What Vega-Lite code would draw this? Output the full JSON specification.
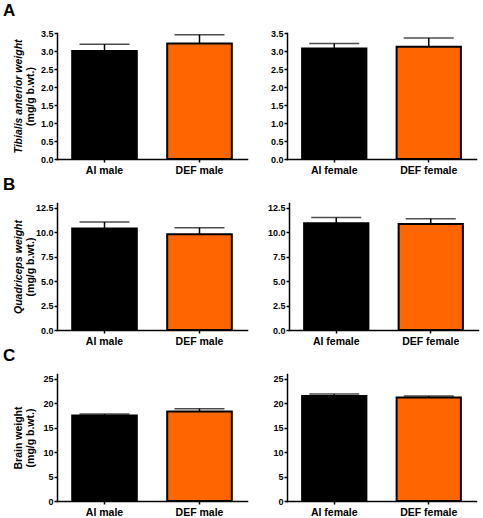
{
  "$schema": "https://vega.github.io/schema/vega-lite/v6.json",
  "padding": {"left": 3, "top": 2, "right": 5, "bottom": 5},
  "background": "white",
  "datasets": {
    "A_m": [
      {"group": "AI male", "diet": "AI", "mean": 3.0, "upper": 3.19},
      {"group": "DEF male", "diet": "DEF", "mean": 3.21, "upper": 3.45}
    ],
    "A_f": [
      {"group": "AI female", "diet": "AI", "mean": 3.07, "upper": 3.21},
      {"group": "DEF female", "diet": "DEF", "mean": 3.12, "upper": 3.36}
    ],
    "B_m": [
      {"group": "AI male", "diet": "AI", "mean": 10.4, "upper": 11.05},
      {"group": "DEF male", "diet": "DEF", "mean": 9.81, "upper": 10.46}
    ],
    "B_f": [
      {"group": "AI female", "diet": "AI", "mean": 10.93, "upper": 11.52},
      {"group": "DEF female", "diet": "DEF", "mean": 10.86, "upper": 11.39}
    ],
    "C_m": [
      {"group": "AI male", "diet": "AI", "mean": 17.5, "upper": 17.8},
      {"group": "DEF male", "diet": "DEF", "mean": 18.3, "upper": 18.9}
    ],
    "C_f": [
      {"group": "AI female", "diet": "AI", "mean": 21.5, "upper": 21.9},
      {"group": "DEF female", "diet": "DEF", "mean": 21.2, "upper": 21.5}
    ]
  },
  "config": {
    "view": {"stroke": null},
    "font": "Liberation Sans",
    "axis": {
      "domainColor": "black", "domainWidth": 1.5, "domainCap": "square",
      "tickColor": "black", "tickWidth": 1.5, "tickSize": 3,
      "labelFont": "Liberation Sans", "labelFontWeight": "bold", "labelColor": "black",
      "titleFont": "Liberation Sans", "titleFontWeight": "bold", "titleColor": "black",
      "grid": false, "labelOverlap": false
    },
    "axisY": {"labelFontSize": 9, "labelPadding": 1, "minExtent": 20, "maxExtent": 20, "titleFontSize": 10.5, "titlePadding": 2, "titleLineHeight": 12},
    "axisX": {"labelFontSize": 10.5, "labelPadding": 3, "labelAngle": 0},
    "title": {"fontSize": 17, "fontWeight": "bold", "font": "Liberation Sans", "color": "black", "anchor": "start", "frame": "bounds", "dx": -10, "offset": 9},
    "concat": {"spacing": 20}
  },
  "vconcat": [
    {
      "title": "A",
      "hconcat": [
        {
          "width": 190, "height": 126, "data": {"name": "A_m"},
          "encoding": {"x": {"field": "group", "type": "nominal", "sort": null, "scale": {"paddingInner": 0.32, "paddingOuter": 0.16}, "axis": {"title": null}}},
          "resolve": {"axis": {"y": "independent"}},
          "layer": [
            {"mark": {"type": "bar", "stroke": "black", "strokeWidth": 2}, "encoding": {"y": {"field": "mean", "type": "quantitative", "scale": {"domain": [0, 3.5]}, "axis": {"values": [0, 0.5, 1, 1.5, 2, 2.5, 3, 3.5], "format": ".1f", "title": "(mg/g b.wt.)"}}, "color": {"field": "diet", "type": "nominal", "scale": {"domain": ["AI", "DEF"], "range": ["black", "#FF6600"]}, "legend": null}}},
            {"mark": {"type": "rule", "color": "black", "strokeWidth": 1.5}, "encoding": {"y": {"field": "mean", "type": "quantitative", "axis": {"orient": "left", "labels": false, "ticks": false, "domain": false, "title": "Tibialis anterior weight", "titleFontStyle": "italic", "titlePadding": 14}}, "y2": {"field": "upper"}}},
            {"mark": {"type": "tick", "orient": "horizontal", "size": 50, "thickness": 1.5, "color": "black"}, "encoding": {"y": {"field": "upper", "type": "quantitative", "axis": null}}}
          ]
        },
        {
          "width": 189, "height": 126, "data": {"name": "A_f"},
          "encoding": {"x": {"field": "group", "type": "nominal", "sort": null, "scale": {"paddingInner": 0.32, "paddingOuter": 0.16}, "axis": {"title": null}}},
          "resolve": {"axis": {"y": "independent"}},
          "layer": [
            {"mark": {"type": "bar", "stroke": "black", "strokeWidth": 2}, "encoding": {"y": {"field": "mean", "type": "quantitative", "scale": {"domain": [0, 3.5]}, "axis": {"values": [0, 0.5, 1, 1.5, 2, 2.5, 3, 3.5], "format": ".1f", "title": null}}, "color": {"field": "diet", "type": "nominal", "scale": {"domain": ["AI", "DEF"], "range": ["black", "#FF6600"]}, "legend": null}}},
            {"mark": {"type": "rule", "color": "black", "strokeWidth": 1.5}, "encoding": {"y": {"field": "mean", "type": "quantitative", "axis": null}, "y2": {"field": "upper"}}},
            {"mark": {"type": "tick", "orient": "horizontal", "size": 50, "thickness": 1.5, "color": "black"}, "encoding": {"y": {"field": "upper", "type": "quantitative", "axis": null}}}
          ]
        }
      ]
    },
    {
      "title": "B",
      "hconcat": [
        {
          "width": 190, "height": 127, "data": {"name": "B_m"},
          "encoding": {"x": {"field": "group", "type": "nominal", "sort": null, "scale": {"paddingInner": 0.32, "paddingOuter": 0.16}, "axis": {"title": null}}},
          "resolve": {"axis": {"y": "independent"}},
          "layer": [
            {"mark": {"type": "bar", "stroke": "black", "strokeWidth": 2}, "encoding": {"y": {"field": "mean", "type": "quantitative", "scale": {"domain": [0, 12.5]}, "axis": {"values": [0, 2.5, 5, 7.5, 10, 12.5], "format": ".1f", "title": "(mg/g b.wt.)"}}, "color": {"field": "diet", "type": "nominal", "scale": {"domain": ["AI", "DEF"], "range": ["black", "#FF6600"]}, "legend": null}}},
            {"mark": {"type": "rule", "color": "black", "strokeWidth": 1.5}, "encoding": {"y": {"field": "mean", "type": "quantitative", "axis": {"orient": "left", "labels": false, "ticks": false, "domain": false, "title": "Quadriceps weight", "titleFontStyle": "italic", "titlePadding": 14}}, "y2": {"field": "upper"}}},
            {"mark": {"type": "tick", "orient": "horizontal", "size": 50, "thickness": 1.5, "color": "black"}, "encoding": {"y": {"field": "upper", "type": "quantitative", "axis": null}}}
          ]
        },
        {
          "width": 189, "height": 127, "data": {"name": "B_f"},
          "encoding": {"x": {"field": "group", "type": "nominal", "sort": null, "scale": {"paddingInner": 0.32, "paddingOuter": 0.16}, "axis": {"title": null}}},
          "resolve": {"axis": {"y": "independent"}},
          "layer": [
            {"mark": {"type": "bar", "stroke": "black", "strokeWidth": 2}, "encoding": {"y": {"field": "mean", "type": "quantitative", "scale": {"domain": [0, 12.5]}, "axis": {"values": [0, 2.5, 5, 7.5, 10, 12.5], "format": ".1f", "title": null}}, "color": {"field": "diet", "type": "nominal", "scale": {"domain": ["AI", "DEF"], "range": ["black", "#FF6600"]}, "legend": null}}},
            {"mark": {"type": "rule", "color": "black", "strokeWidth": 1.5}, "encoding": {"y": {"field": "mean", "type": "quantitative", "axis": null}, "y2": {"field": "upper"}}},
            {"mark": {"type": "tick", "orient": "horizontal", "size": 50, "thickness": 1.5, "color": "black"}, "encoding": {"y": {"field": "upper", "type": "quantitative", "axis": null}}}
          ]
        }
      ]
    },
    {
      "title": "C",
      "hconcat": [
        {
          "width": 190, "height": 127, "data": {"name": "C_m"},
          "encoding": {"x": {"field": "group", "type": "nominal", "sort": null, "scale": {"paddingInner": 0.32, "paddingOuter": 0.16}, "axis": {"title": null}}},
          "resolve": {"axis": {"y": "independent"}},
          "layer": [
            {"mark": {"type": "bar", "stroke": "black", "strokeWidth": 2}, "encoding": {"y": {"field": "mean", "type": "quantitative", "scale": {"domain": [0, 25]}, "axis": {"values": [0, 5, 10, 15, 20, 25], "format": "d", "title": ["Brain weight", "(mg/g b.wt.)"]}}, "color": {"field": "diet", "type": "nominal", "scale": {"domain": ["AI", "DEF"], "range": ["black", "#FF6600"]}, "legend": null}}},
            {"mark": {"type": "rule", "color": "black", "strokeWidth": 1.5}, "encoding": {"y": {"field": "mean", "type": "quantitative", "axis": null}, "y2": {"field": "upper"}}},
            {"mark": {"type": "tick", "orient": "horizontal", "size": 50, "thickness": 1.5, "color": "black"}, "encoding": {"y": {"field": "upper", "type": "quantitative", "axis": null}}}
          ]
        },
        {
          "width": 189, "height": 127, "data": {"name": "C_f"},
          "encoding": {"x": {"field": "group", "type": "nominal", "sort": null, "scale": {"paddingInner": 0.32, "paddingOuter": 0.16}, "axis": {"title": null}}},
          "resolve": {"axis": {"y": "independent"}},
          "layer": [
            {"mark": {"type": "bar", "stroke": "black", "strokeWidth": 2}, "encoding": {"y": {"field": "mean", "type": "quantitative", "scale": {"domain": [0, 25]}, "axis": {"values": [0, 5, 10, 15, 20, 25], "format": "d", "title": null}}, "color": {"field": "diet", "type": "nominal", "scale": {"domain": ["AI", "DEF"], "range": ["black", "#FF6600"]}, "legend": null}}},
            {"mark": {"type": "rule", "color": "black", "strokeWidth": 1.5}, "encoding": {"y": {"field": "mean", "type": "quantitative", "axis": null}, "y2": {"field": "upper"}}},
            {"mark": {"type": "tick", "orient": "horizontal", "size": 50, "thickness": 1.5, "color": "black"}, "encoding": {"y": {"field": "upper", "type": "quantitative", "axis": null}}}
          ]
        }
      ]
    }
  ],
  "spacing": 0
}
